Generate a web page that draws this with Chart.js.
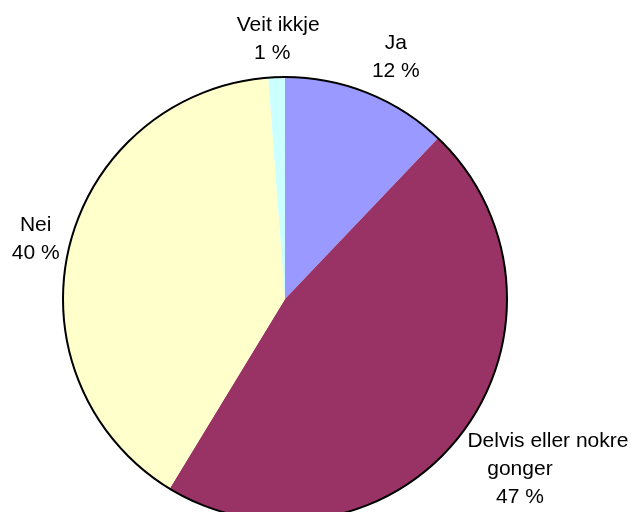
<!DOCTYPE html>
<html>
<head>
<meta charset="utf-8">
<script src="https://cdn.jsdelivr.net/npm/chart.js@4/dist/chart.umd.min.js"></script>
<style>
  html, body { margin: 0; padding: 0; background: #ffffff; overflow: hidden; }
  #wrap { width: 632px; height: 512px; overflow: hidden; position: relative; }
  canvas { display: block; }
</style>
</head>
<body>
<div id="wrap"><canvas id="c" width="632" height="600"></canvas></div>
<script>
// Data
const categories = ["Ja", "Delvis eller nokre gonger", "Nei", "Veit ikkje"];
const labelLines = [["Ja"], ["Delvis eller nokre", "gonger"], ["Nei"], ["Veit ikkje"]];
const values = [12.1, 46.6, 40.1, 1.2];
const colors = ["#9999FF", "#993366", "#FFFFCC", "#CCFFFF"];

// label placement style: distance of label block centre as a fraction of the radius,
// and a small angular nudge (degrees) like Excel's label placement
const labelDist = [1.2, 1.358, 1.155, 1.17];
const labelNudge = [2.8, -3.1, 0, 0];
// per-line horizontal shifts (Excel-like wrapping)
const lineShift = [[0, 0], [14, -14, -14], [0, 0], [3, -3]];

const outlinePlugin = {
  id: 'outline',
  afterDatasetsDraw(chart) {
    const arcs = chart.getDatasetMeta(0).data;
    if (!arcs.length) return;
    const a = arcs[0];
    const ctx = chart.ctx;
    ctx.save();
    ctx.beginPath();
    ctx.arc(a.x, a.y, a.outerRadius, 0, Math.PI * 2);
    ctx.lineWidth = 2;
    ctx.strokeStyle = '#000000';
    ctx.stroke();
    ctx.restore();
  }
};

const labelPlugin = {
  id: 'sliceLabels',
  afterDraw(chart) {
    const arcs = chart.getDatasetMeta(0).data;
    const ctx = chart.ctx;
    const total = values.reduce((s, v) => s + v, 0);
    ctx.save();
    ctx.font = '21px "Liberation Sans", Arial, sans-serif';
    ctx.fillStyle = '#000000';
    ctx.textAlign = 'center';
    ctx.textBaseline = 'middle';
    const lh = 28;
    arcs.forEach((arc, i) => {
      const mid = (arc.startAngle + arc.endAngle) / 2 + labelNudge[i] * Math.PI / 180;
      const r = arc.outerRadius * labelDist[i];
      const cx = arc.x + Math.cos(mid) * r;
      const cy = arc.y + Math.sin(mid) * r;
      const lines = labelLines[i].concat([Math.round(values[i] / total * 100) + ' %']);
      const top = cy - (lines.length - 1) * lh / 2;
      lines.forEach((t, j) => {
        const dx = (lineShift[i] && lineShift[i][j]) || 0;
        ctx.fillText(t, cx + dx, top + j * lh);
      });
    });
    ctx.restore();
  }
};

new Chart(document.getElementById('c'), {
  type: 'pie',
  data: {
    labels: categories,
    datasets: [{
      data: values,
      backgroundColor: colors,
      borderWidth: 0,
      hoverOffset: 0,
      offset: 0
    }]
  },
  options: {
    responsive: false,
    animation: false,
    devicePixelRatio: 1,
    events: [],
    layout: { padding: { left: 63, right: 125, top: 77, bottom: 79 } },
    plugins: {
      legend: { display: false },
      tooltip: { enabled: false },
      title: { display: false }
    }
  },
  plugins: [outlinePlugin, labelPlugin]
});
</script>
</body>
</html>
